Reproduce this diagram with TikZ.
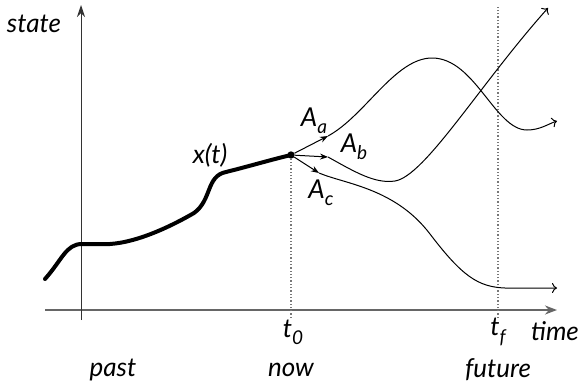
\documentclass[tikz,border=0pt]{standalone}
\usepackage{fontspec}
\setmainfont{Lato}
\usepackage{tikz}
\usetikzlibrary{arrows.meta,positioning,calc}
\definecolor{AxisGray}{HTML}{666666}
\definecolor{DotGray}{HTML}{777777}
\newcommand{\lowsub}[1]{\raisebox{-0.55ex}{\fontsize{19}{19}\selectfont #1}}

\begin{document}
\begin{tikzpicture}[x=1pt, y=1pt,
  lbl/.style={font=\fontsize{26}{30}\selectfont\itshape, inner sep=1pt},
  guide/.style={DotGray, line width=1.3pt, dotted},
  branch/.style={line width=1pt, -{To[length=5pt, width=10pt]}},
  shoot/.style={line width=1pt, -{Stealth[length=8pt, width=6pt]}}]
\useasboundingbox (0,0) rectangle (585,384);

% Axes
\coordinate (xs) at (45,74);
\coordinate (xe) at (557,74);
\coordinate (ys) at (81,64);
\coordinate (ye) at (81,379);
\draw[AxisGray, line width=2pt, -{Stealth[length=12pt, width=9pt]}] (xs) -- (xe);
\draw[black!80, line width=1pt, -{Stealth[length=12pt, width=8pt]}] (ys) -- (ye);
\node[lbl] (state) at (34,360) {state};
\node[lbl] (time) at (555,53) {time};

% Now and final time
\node[circle, fill, inner sep=2.6pt] (now) at (291,229) {};
\coordinate (nowfoot) at (291,66);
\coordinate (ftop) at (498,377);
\coordinate (ffoot) at (498,66);
\draw[guide] (nowfoot) -- (now);
\draw[guide] (ffoot) -- (ftop);
\node[lbl] (tzero) at (293,52) {t\lowsub{0}};
\node[lbl] (tfin) at (498,52) {t\lowsub{f}};
\node[lbl] (past) at (113,14) {past};
\node[lbl] (present) at (291,14) {now};
\node[lbl] (future) at (498,14) {future};

% Past trajectory x(t)
\draw[line width=4pt, line cap=round] (45,105) .. controls (62,124) and (66,140) .. (82,140)
  -- (110,140) .. controls (140,142) and (175,160) .. (194,171)
  .. controls (212,184) and (206,208) .. (226,212)
  .. controls (250,218) and (270,224) .. (now.center);
\node[lbl] (xt) at (210,229) {x(t)};

% Control actions
\coordinate (atip) at (328,248);
\coordinate (btip) at (328,227);
\coordinate (ctip) at (319,211);
\draw[shoot] (now) -- (atip);
\draw[shoot] (now) -- (btip);
\draw[shoot] (now) -- (ctip);
\node[lbl] (Aa) at (314,263) {A\lowsub{a}};
\node[lbl] (Ab) at (354,237) {A\lowsub{b}};
\node[lbl] (Ac) at (321,191) {A\lowsub{c}};

% Future branches
\coordinate (aend) at (557,263);
\coordinate (bend) at (548,376);
\coordinate (cend) at (557,96);
\draw[branch] (atip) .. controls (365,268) and (395,326) .. (432,326)
  .. controls (475,326) and (495,254) .. (527,254)
  .. controls (540,254) and (548,260) .. (aend);
\draw[branch] (btip) .. controls (355,212) and (375,200) .. (395,203)
  .. controls (425,208) and (480,300) .. (bend);
\draw[branch] (ctip) .. controls (345,200) and (395,196) .. (430,150)
  .. controls (462,108) and (478,97) .. (505,96)
  -- (cend);
\end{tikzpicture}
\end{document}
